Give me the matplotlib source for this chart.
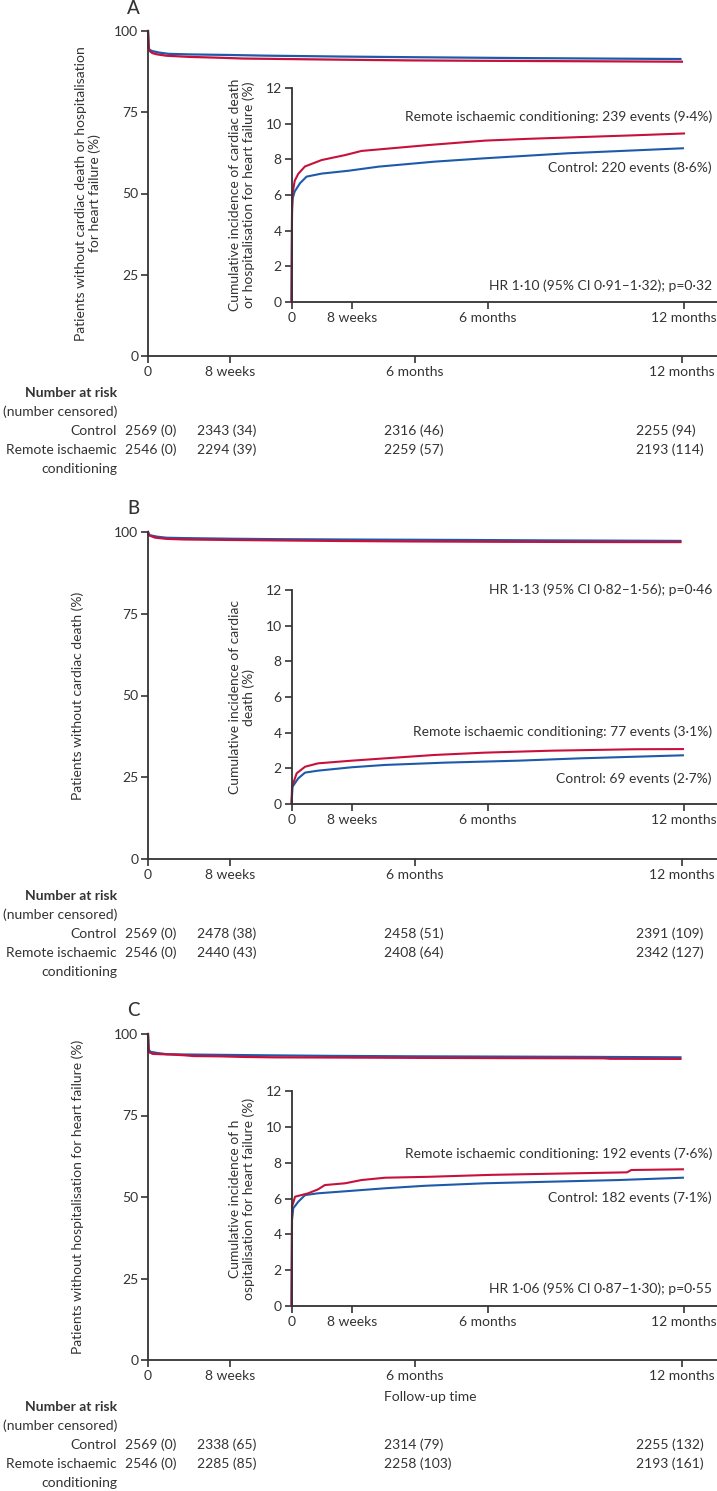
import matplotlib
matplotlib.use('Agg')
import matplotlib.pyplot as plt

plt.rcParams['font.family'] = ['Lato', 'DejaVu Sans']

W, H = 717, 1491
RED = '#c8103c'
BLUE = '#1e5aaa'
INK = '#333333'

# time axis (days) and tick labels
x_ticks = [0, 56, 182.5, 365]
x_tick_labels = ['0', '8 weeks', '6 months', '12 months']
main_y_ticks = [0, 25, 50, 75, 100]
inset_y_ticks = [0, 2, 4, 6, 8, 10, 12]

# cumulative incidence (%); main curves = 100 - incidence
A_red_t = [0, 0.5, 1, 3, 6.3, 12.5, 28, 50, 65, 127, 180, 220, 270, 320, 365]
A_red_v = [0, 5.0, 6.1, 6.8, 7.19, 7.6, 7.96, 8.24, 8.47, 8.8, 9.05, 9.15, 9.25, 9.35, 9.45]
A_blue_t = [0, 0.5, 1, 3, 7.9, 14, 28, 53, 81, 133, 180, 257, 364]
A_blue_v = [0, 5.25, 5.8, 6.2, 6.66, 7.03, 7.2, 7.36, 7.59, 7.87, 8.06, 8.34, 8.62]

B_red_t = [0, 0.5, 4.8, 12.6, 24.7, 56, 87, 133, 180, 242, 319, 364]
B_red_v = [0, 0.97, 1.72, 2.09, 2.28, 2.43, 2.56, 2.75, 2.88, 2.99, 3.07, 3.08]
B_blue_t = [0, 1, 6.3, 12.6, 24.7, 56, 87, 143, 211, 268, 319, 364]
B_blue_v = [0, 0.97, 1.44, 1.76, 1.87, 2.06, 2.19, 2.32, 2.43, 2.56, 2.65, 2.73]

C_red_t = [0, 0.5, 3.3, 15.5, 24.7, 31, 50, 65, 87, 127, 186, 257, 312, 316, 364]
C_red_v = [0, 5.54, 6.1, 6.29, 6.51, 6.75, 6.85, 7.03, 7.16, 7.21, 7.32, 7.4, 7.46, 7.59, 7.63]
C_blue_t = [0, 0.5, 1.6, 6.3, 12.6, 24.7, 56, 87, 124, 180, 242, 304, 364]
C_blue_v = [0, 4.8, 5.45, 5.82, 6.19, 6.29, 6.43, 6.57, 6.71, 6.85, 6.94, 7.03, 7.16]

# number at risk (number censored)
A_risk_control = ['2569 (0)', '2343 (34)', '2316 (46)', '2255 (94)']
A_risk_ric = ['2546 (0)', '2294 (39)', '2259 (57)', '2193 (114)']
B_risk_control = ['2569 (0)', '2478 (38)', '2458 (51)', '2391 (109)']
B_risk_ric = ['2546 (0)', '2440 (43)', '2408 (64)', '2342 (127)']
C_risk_control = ['2569 (0)', '2338 (65)', '2314 (79)', '2255 (132)']
C_risk_ric = ['2546 (0)', '2285 (85)', '2258 (103)', '2193 (161)']

panels = [
    dict(letter='A', top=31, bottom=356, in_top=88, in_bottom=302,
         main_label='Patients without cardiac death or hospitalisation\nfor heart failure (%)',
         inset_label='Cumulative incidence of cardiac death\nor hospitalisation for heart failure (%)',
         red=(A_red_t, A_red_v), blue=(A_blue_t, A_blue_v),
         ric_text='Remote ischaemic conditioning: 239 events (9·4%)', ric_y=117,
         ctl_text='Control: 220 events (8·6%)', ctl_y=168,
         hr_text='HR 1·10 (95% CI 0·91–1·32); p=0·32', hr_y=286,
         risk=(A_risk_control, A_risk_ric), table_y=393, followup=False),
    dict(letter='B', top=532, bottom=859, in_top=590, in_bottom=804,
         main_label='Patients without cardiac death (%)',
         inset_label='Cumulative incidence of cardiac\ndeath (%)',
         red=(B_red_t, B_red_v), blue=(B_blue_t, B_blue_v),
         ric_text='Remote ischaemic conditioning: 77 events (3·1%)', ric_y=732,
         ctl_text='Control: 69 events (2·7%)', ctl_y=779,
         hr_text='HR 1·13 (95% CI 0·82–1·56); p=0·46', hr_y=590,
         risk=(B_risk_control, B_risk_ric), table_y=896, followup=False),
    dict(letter='C', top=1034, bottom=1360, in_top=1091, in_bottom=1306,
         main_label='Patients without hospitalisation for heart failure (%)',
         inset_label='Cumulative incidence of h\nospitalisation for heart failure (%)',
         red=(C_red_t, C_red_v), blue=(C_blue_t, C_blue_v),
         ric_text='Remote ischaemic conditioning: 192 events (7·6%)', ric_y=1154,
         ctl_text='Control: 182 events (7·1%)', ctl_y=1198,
         hr_text='HR 1·06 (95% CI 0·87–1·30); p=0·55', hr_y=1289,
         risk=(C_risk_control, C_risk_ric), table_y=1407, followup=True),
]


def fx(px):
    return px / W


def fy(py):
    return 1 - py / H


def style_axes(ax, yticks):
    for s in ['top', 'right']:
        ax.spines[s].set_visible(False)
    for s in ['left', 'bottom']:
        ax.spines[s].set_color(INK)
        ax.spines[s].set_linewidth(1.3)
    ax.set_facecolor('none')
    ax.set_xticks(x_ticks)
    ax.set_xticklabels(x_tick_labels)
    ax.set_yticks(yticks)
    ax.tick_params(length=5, width=1.2, color=INK, labelcolor=INK, labelsize=10, pad=2)


fig = plt.figure(figsize=(W / 100, H / 100), dpi=100)

for p in panels:
    # main Kaplan-Meier axes
    ax = fig.add_axes([fx(148), fy(p['bottom']), fx(717 - 148), (p['bottom'] - p['top']) / H])
    style_axes(ax, main_y_ticks)
    ax.set_xlim(0, 389)
    ax.set_ylim(0, 100)
    ax.plot(p['blue'][0], [100 - v for v in p['blue'][1]], color=BLUE, lw=1.6, clip_on=False)
    ax.plot(p['red'][0], [100 - v for v in p['red'][1]], color=RED, lw=1.6, clip_on=False)

    # inset: cumulative incidence
    ins = fig.add_axes([fx(291.5), fy(p['in_bottom']), fx(717 - 291.5),
                        (p['in_bottom'] - p['in_top']) / H])
    style_axes(ins, inset_y_ticks)
    ins.set_xlim(0, 395.7)
    ins.set_ylim(0, 12)
    ins.plot(p['blue'][0], p['blue'][1], color=BLUE, lw=1.5, clip_on=False)
    ins.plot(p['red'][0], p['red'][1], color=RED, lw=1.5, clip_on=False)

    fig.text(fx(133), fy(p['top'] - 23), p['letter'], fontsize=13.5, fontweight='medium',
             color=INK, ha='center', va='center')
    fig.text(fx(88 if '\n' in p['main_label'] else 78), fy((p['top'] + p['bottom']) / 2),
             p['main_label'], rotation=90, fontsize=10, color=INK, ha='center', va='center',
             linespacing=1.15)
    fig.text(fx(242), fy((p['in_top'] + p['in_bottom']) / 2), p['inset_label'], rotation=90,
             fontsize=10, color=INK, ha='center', va='center', linespacing=1.15)

    for txt, yy in [(p['ric_text'], p['ric_y']), (p['ctl_text'], p['ctl_y']),
                    (p['hr_text'], p['hr_y'])]:
        fig.text(fx(712), fy(yy), txt, fontsize=10, color=INK, ha='right', va='center')

    if p['followup']:
        fig.text(fx(430), fy(1397), 'Follow-up time', fontsize=10, color=INK,
                 ha='center', va='center')

    # number at risk table
    ty = p['table_y']
    fig.text(fx(117), fy(ty), 'Number at risk', fontsize=10, fontweight='bold', color=INK,
             ha='right', va='center')
    fig.text(fx(117), fy(ty + 19), '(number censored)', fontsize=10, color=INK,
             ha='right', va='center')
    fig.text(fx(117), fy(ty + 38), 'Control', fontsize=10, color=INK, ha='right', va='center')
    fig.text(fx(117), fy(ty + 57), 'Remote ischaemic', fontsize=10, color=INK,
             ha='right', va='center')
    fig.text(fx(117), fy(ty + 76), 'conditioning', fontsize=10, color=INK,
             ha='right', va='center')
    for col_x, c_val, r_val in zip([125, 197, 384, 636], p['risk'][0], p['risk'][1]):
        fig.text(fx(col_x), fy(ty + 38), c_val, fontsize=10, color=INK, ha='left', va='center')
        fig.text(fx(col_x), fy(ty + 57), r_val, fontsize=10, color=INK, ha='left', va='center')

fig.savefig('out.png', dpi=100)
